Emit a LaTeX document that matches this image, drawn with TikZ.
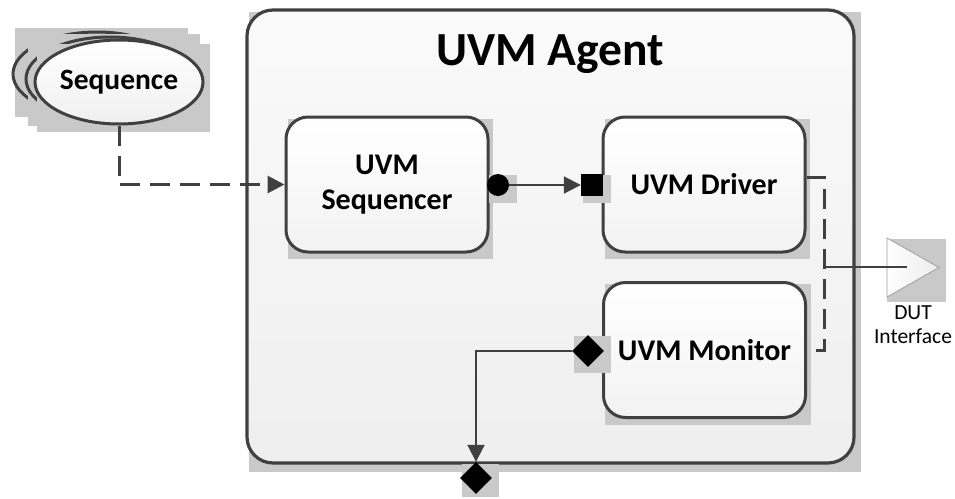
\documentclass[tikz,border=0pt]{standalone}
\usepackage{fontspec}
\setmainfont{Carlito}
\usetikzlibrary{arrows.meta,shapes.geometric,calc}
\definecolor{ln}{HTML}{404040}
\definecolor{shd}{HTML}{C9C9C9}
\begin{document}
\begin{tikzpicture}[x=1pt,y=-1pt,
  shadowbox/.style={fill=shd},
  agentbox/.style={draw=ln, line width=3.2pt, rounded corners=26pt, top color=gray!4, bottom color=gray!13, minimum width=607pt, minimum height=453pt, inner sep=0pt},
  compbox/.style={draw=ln, line width=3pt, rounded corners=22pt, top color=white, bottom color=gray!10, minimum width=202pt, minimum height=135pt, inner sep=0pt, align=center, font=\bfseries\fontsize{30}{35}\selectfont},
  seqell/.style={ellipse, draw=ln, line width=3pt, minimum width=168pt, minimum height=84pt, inner sep=0pt},
  conn/.style={draw=ln, line width=2pt},
  dconn/.style={draw=ln, line width=3pt, dash pattern=on 20pt off 10pt},
  tip/.style={-{Triangle[length=17pt,width=17pt]}},
  port/.style={fill=black, inner sep=0pt}
]
\useasboundingbox (0,0) rectangle (955,498);
% agent
\fill[shadowbox] (249,12) rectangle (861,472);
\node[agentbox] (agent) at (550.5,236.5) {};
\node[font=\bfseries\fontsize{47.5}{56}\selectfont] (title) at (550,54) {UVM Agent};
% sequence ellipses
\fill[shadowbox] (15,28) rectangle (188,117);
\node[seqell] (seqC) at (97,74) {};
\fill[shadowbox] (28,34) rectangle (200,126);
\node[seqell] (seqB) at (110,79) {};
\fill[shadowbox] (37,44) rectangle (210,132);
\node[seqell, top color=white, bottom color=gray!12, font=\bfseries\fontsize{29.5}{35}\selectfont] (seqA) at (119,82) {Sequence};
% components
\fill[shadowbox] (288,119) rectangle (493,259);
\node[compbox] (sqr) at (387,184.5) {UVM\\Sequencer};
\fill[shadowbox] (605,119) rectangle (810,259);
\node[compbox] (drv) at (704,184.5) {UVM Driver};
\fill[shadowbox] (605,284) rectangle (811,425);
\node[compbox] (mon) at (704.5,350) {UVM Monitor};
% ports
\fill[shadowbox] (489,175) rectangle (517,203);
\node[port, circle, minimum size=22pt] (cport) at (498,185) {};
\fill[shadowbox] (583,175) rectangle (611,203);
\node[port, minimum size=22pt] (sport) at (592,185) {};
\fill[shadowbox] (574,336) rectangle (611,373);
\node[port, diamond, minimum size=32pt] (mport) at (588,351) {};
\fill[shadowbox] (462,464) rectangle (499,497);
\node[port, diamond, minimum size=32pt] (aport) at (476,478) {};
% DUT interface
\fill[shadowbox] (887,239) rectangle (946,302);
\draw[draw=gray!75, line width=0.8pt, left color=white, right color=gray!15] (887,238) -- (939,267.5) -- (887,297) -- cycle;
\coordinate (dutin) at (907,267);
\node[font=\fontsize{21.5}{24}\selectfont, align=center] (dutlabel) at (913,325) {DUT\\Interface};
% connectors
\draw[dconn, tip] (seqA.south) |- (sqr.west);
\draw[conn, tip] (cport.east) -- (sport.west);
\draw[dconn] ([yshift=7.5pt]drv.east) -- ++(18,0) |- (mon.east);
\coordinate (tap) at (823,267);
\draw[conn] (tap) -- (dutin);
\draw[conn, tip] (mport.west) -| (aport.north);
\end{tikzpicture}
\end{document}
